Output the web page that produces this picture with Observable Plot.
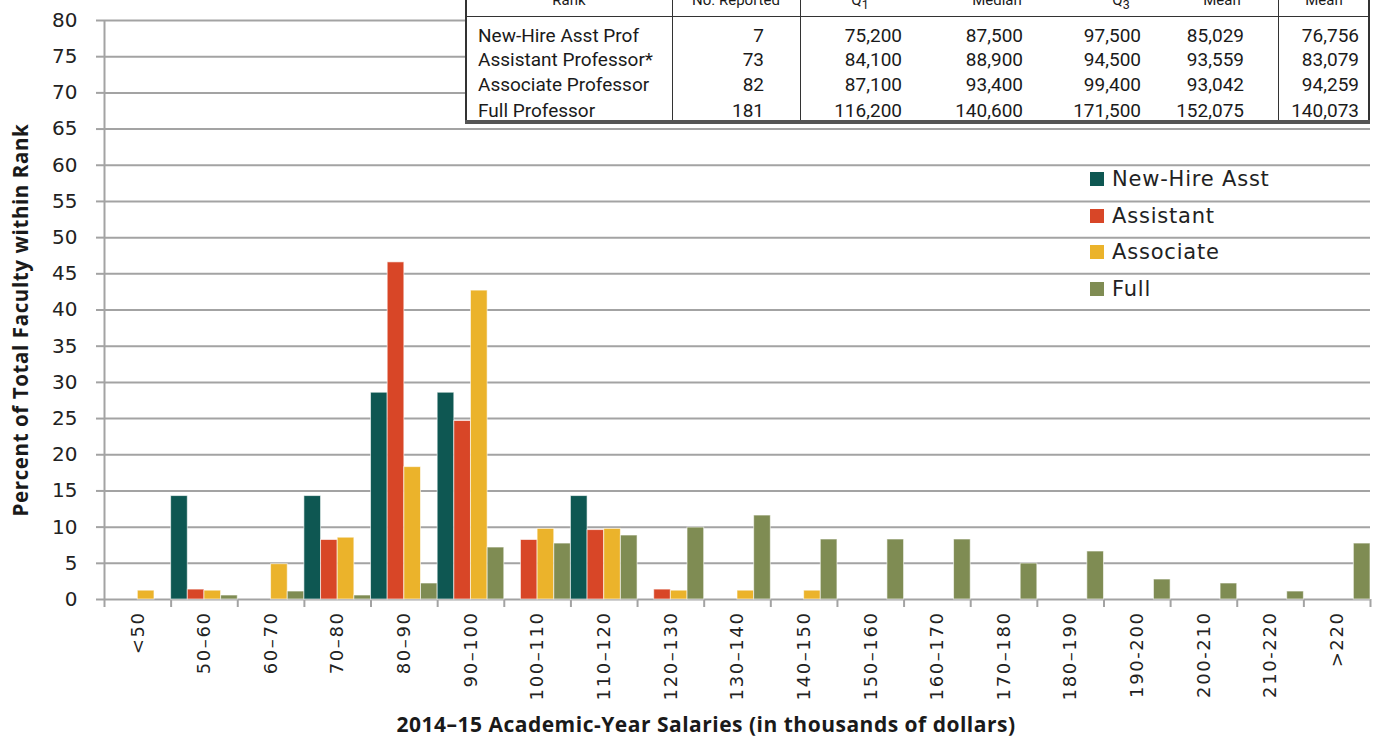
<!DOCTYPE html>
<html><head><meta charset="utf-8">
<script src="https://cdn.jsdelivr.net/npm/d3@7"></script>
<script src="https://cdn.jsdelivr.net/npm/@observablehq/plot@0.6"></script>
<style>
body{margin:0;background:#fff;}
#wrap{position:relative;width:1385px;height:738px;overflow:hidden;background:#fff;}
#wrap svg{position:absolute;left:0;top:0;}
[aria-label="x-axis tick label"] text{letter-spacing:1.6px;}
.ytitle{position:absolute;left:20px;top:320px;transform:translate(-50%,-50%) rotate(-90deg);white-space:nowrap;font:700 20.5px "Open Sans",sans-serif;letter-spacing:0.6px;color:#1a1a1a;}
.xtitle{position:absolute;left:706px;top:724px;transform:translate(-50%,-50%);white-space:nowrap;font:700 21px "Open Sans",sans-serif;letter-spacing:0.5px;color:#1a1a1a;}
.legend{position:absolute;left:1090px;top:162px;font:21px "DejaVu Sans",sans-serif;letter-spacing:0.8px;color:#222;}
.legend .it{position:absolute;left:0;height:36px;white-space:nowrap;}
.legend .sw{position:absolute;left:0;width:14px;height:14px;}
.legend .lb{position:absolute;left:22px;top:0;line-height:21px;}
.tbl{position:absolute;left:465px;top:-14px;width:905px;height:138px;background:#fff;border:2px solid #333;border-bottom:none;box-sizing:border-box;font:19px Roboto,sans-serif;color:#1a1a1a;}
.tbl .shadow{position:absolute;left:-2px;right:-2px;bottom:0;height:4px;background:#555;}
.tbl .vl{position:absolute;top:0;bottom:0;width:0;border-left:1.5px solid #333;}
.tbl .hl{position:absolute;left:0;right:0;height:0;border-top:1.5px solid #333;}
.tbl .c{position:absolute;white-space:nowrap;line-height:20px;}
.tbl .h{font-size:15px;}
</style></head><body><div id="wrap"></div>
<script>
const categories = ["<50","50–60","60–70","70–80","80–90","90–100","100–110","110–120","120–130","130–140","140–150","150–160","160–170","170–180","180–190","190-200","200-210","210-220",">220"];
const series = ["New-Hire Asst","Assistant","Associate","Full"];
const newHire   = [0,14.29,0,14.29,28.57,28.57,0,14.29,0,0,0,0,0,0,0,0,0,0,0];
const assistant = [0,1.37,0,8.22,46.58,24.66,8.22,9.59,1.37,0,0,0,0,0,0,0,0,0,0];
const associate = [1.22,1.22,4.88,8.54,18.29,42.68,9.76,9.76,1.22,1.22,1.22,0,0,0,0,0,0,0,0];
const full      = [0,0.55,1.10,0.55,2.21,7.18,7.73,8.84,9.94,11.60,8.29,8.29,8.29,4.97,6.63,2.76,2.21,1.10,7.73];
const colors = ["#0e5752","#d84627","#ebb32b","#7f8c53"];
const yTicks = d3.range(0, 81, 5);

const tableHeaders = ["Rank","No. Reported","Q<sub>1</sub>","Median","Q<sub>3</sub>","Mean","Mean"];
const tableRanks = ["New-Hire Asst Prof","Assistant Professor*","Associate Professor","Full Professor"];
const tableReported = [7,73,82,181];
const tableQ1 = [75200,84100,87100,116200];
const tableMedian = [87500,88900,93400,140600];
const tableQ3 = [97500,94500,99400,171500];
const tableMean = [85029,93559,93042,152075];
const tableMean2 = [76756,83079,94259,140073];

const valuesBySeries = [newHire, assistant, associate, full];
const rows = [];
categories.forEach((c, i) => series.forEach((s, j) => {
  rows.push({cat: c, series: s, i, j, value: valuesBySeries[j][i]});
}));
const nS = series.length;
const grid = "#a3a3a3";

const chart = Plot.plot({
  width: 1385, height: 738,
  marginLeft: 104, marginRight: 15, marginTop: 20, marginBottom: 139,
  style: {fontFamily: "DejaVu Sans, sans-serif", fontSize: "20px", color: "#222", background: "transparent"},
  x: {domain: [0, categories.length], axis: null},
  y: {domain: [0, 80], axis: null},
  color: {domain: series, range: colors},
  marks: [
    Plot.ruleY(yTicks, {stroke: grid, strokeWidth: 2}),
    Plot.axisY({ticks: yTicks, tickSize: 8, tickPadding: 19, stroke: grid, strokeWidth: 2, fill: "#222", fontSize: 20, label: null}),
    Plot.axisX({ticks: d3.range(0, categories.length + 1), tickSize: 8, tickFormat: () => "", stroke: grid, strokeWidth: 2, label: null}),
    Plot.axisX({ticks: d3.range(categories.length).map(i => i + 0.5), tickSize: 0, tickPadding: 12, tickRotate: -90,
      tickFormat: v => categories[Math.floor(v)], fill: "#222", fontSize: 18, label: null}),
    Plot.ruleX([0], {y1: 0, y2: 80, stroke: grid, strokeWidth: 2}),
    Plot.rectY(rows.filter(d => d.value > 0), {
      x1: d => d.i + d.j / nS, x2: d => d.i + (d.j + 1) / nS,
      y1: 0, y2: "value", fill: "series", stroke: "#ffffff", strokeOpacity: 0.6, strokeWidth: 1
    })
  ]
});
const wrap = document.getElementById("wrap");
wrap.appendChild(chart);

// titles
const yt = document.createElement("div"); yt.className = "ytitle"; yt.textContent = "Percent of Total Faculty within Rank"; wrap.appendChild(yt);
const xt = document.createElement("div"); xt.className = "xtitle"; xt.textContent = "2014–15 Academic-Year Salaries (in thousands of dollars)"; wrap.appendChild(xt);

// legend
const lg = document.createElement("div"); lg.className = "legend";
series.forEach((s, j) => {
  const it = document.createElement("div"); it.className = "it"; it.style.top = (j * 36.7) + "px";
  it.innerHTML = `<div class="sw" style="top:10px;background:${colors[j]}"></div><div class="lb" style="top:7px">${s}</div>`;
  lg.appendChild(it);
});
wrap.appendChild(lg);

// table
const fmt = d3.format(",");
const tbl = document.createElement("div"); tbl.className = "tbl";
const L = 465 + 2;
function cell(html, x, y, align, cls) {
  const d = document.createElement("div"); d.className = "c" + (cls ? " " + cls : "");
  d.innerHTML = html; d.style.top = (y + 14 - 2) + "px";
  if (align === "left") d.style.left = (x - L) + "px";
  else if (align === "right") { d.style.right = (1370 - 2 - x) + "px"; }
  else { d.style.left = (x - L) + "px"; d.style.transform = "translateX(-50%)"; }
  tbl.appendChild(d);
}
[672, 800, 1278].forEach(x => { const v = document.createElement("div"); v.className = "vl"; v.style.left = (x - L) + "px"; tbl.appendChild(v); });
const hl = document.createElement("div"); hl.className = "hl"; hl.style.top = (16 + 14 - 2) + "px"; tbl.appendChild(hl);
const headerX = [569, 736, 860, 997, 1121, 1222, 1324];
tableHeaders.forEach((h, k) => cell(h, headerX[k], -10, "center", "h"));
const rowY = [26, 50, 75, 101];
const colRight = [764, 902, 1023, 1141, 1244, 1359];
tableRanks.forEach((r, k) => {
  cell(r, 478, rowY[k], "left");
  cell(String(tableReported[k]), colRight[0], rowY[k], "right");
  cell(fmt(tableQ1[k]), colRight[1], rowY[k], "right");
  cell(fmt(tableMedian[k]), colRight[2], rowY[k], "right");
  cell(fmt(tableQ3[k]), colRight[3], rowY[k], "right");
  cell(fmt(tableMean[k]), colRight[4], rowY[k], "right");
  cell(fmt(tableMean2[k]), colRight[5], rowY[k], "right");
});
const sh = document.createElement("div"); sh.className = "shadow"; tbl.appendChild(sh);
wrap.appendChild(tbl);
</script>
</body></html>
